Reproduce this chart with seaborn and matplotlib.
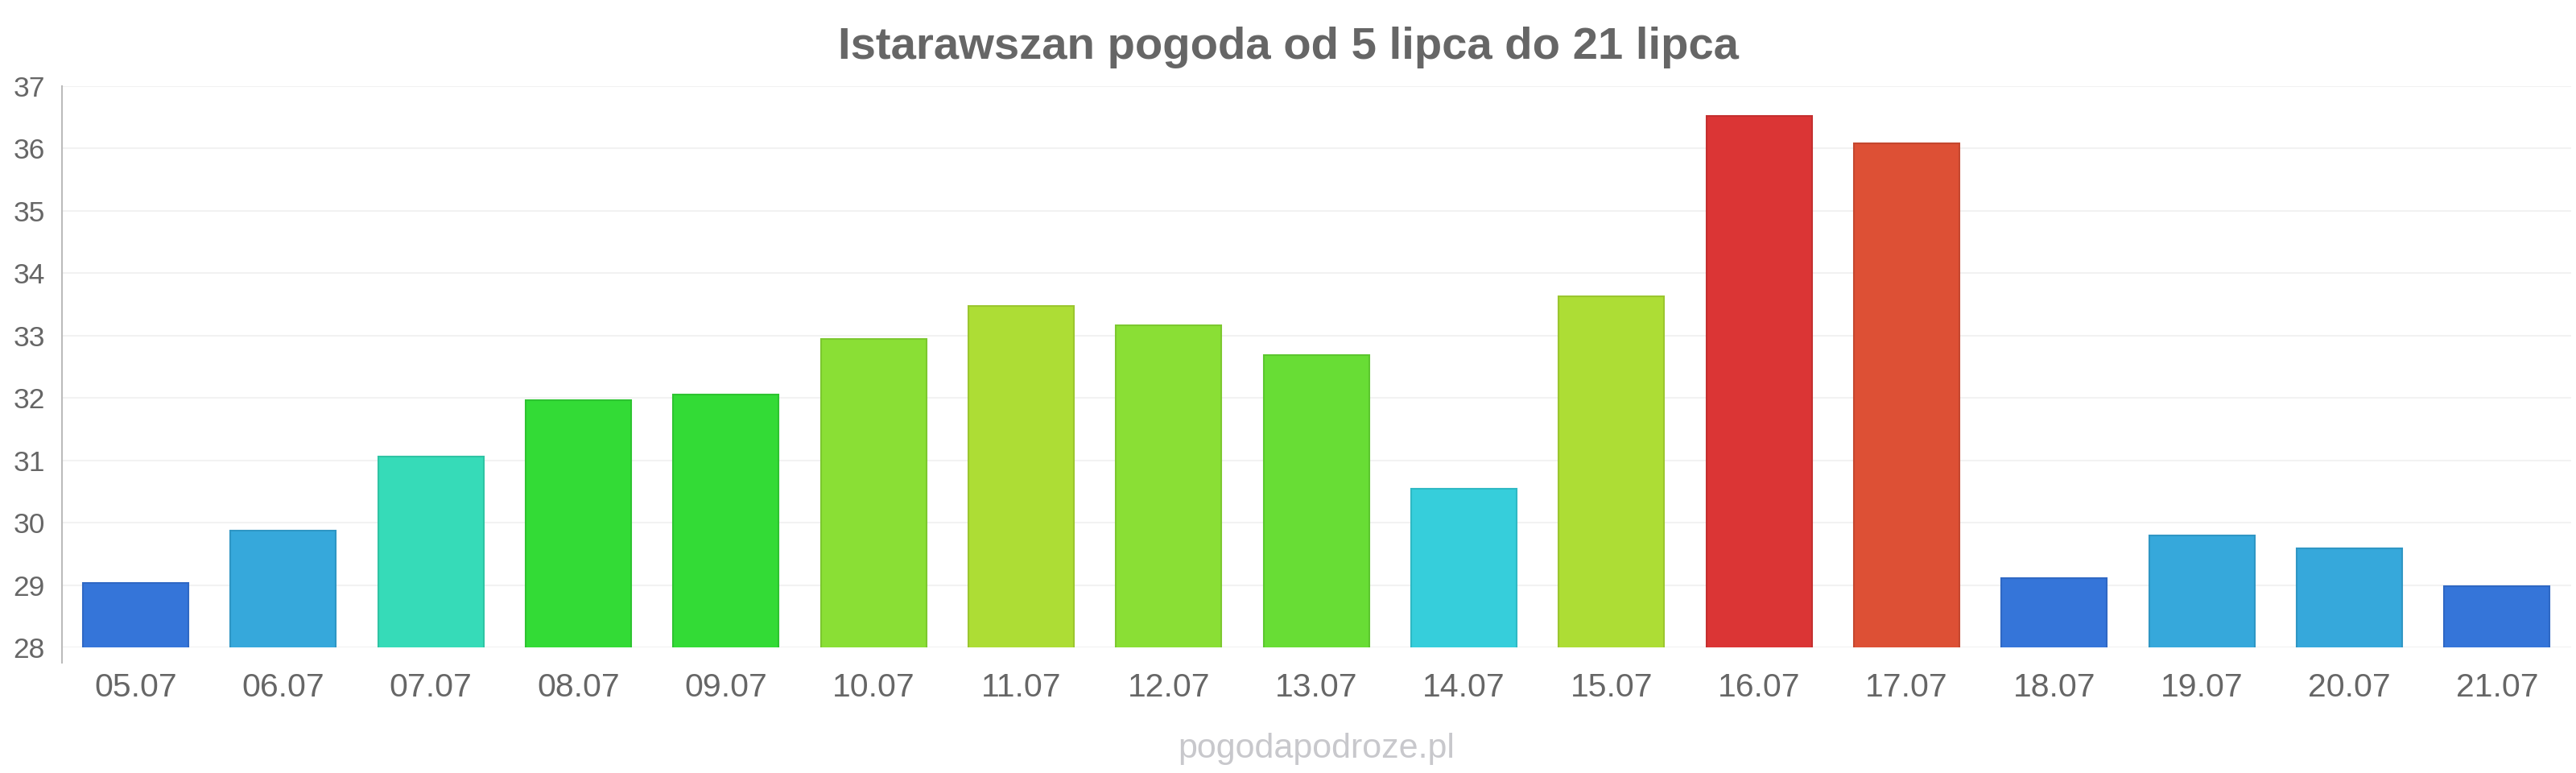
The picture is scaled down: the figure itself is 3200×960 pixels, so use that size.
import matplotlib
matplotlib.use("Agg")
import matplotlib.pyplot as plt
import seaborn as sns
import pandas as pd

# data
days = ["05.07", "06.07", "07.07", "08.07", "09.07", "10.07", "11.07", "12.07", "13.07",
        "14.07", "15.07", "16.07", "17.07", "18.07", "19.07", "20.07", "21.07"]
temps = [29.03, 29.87, 31.06, 31.96, 32.05, 32.94, 33.47, 33.17, 32.69,
         30.54, 33.63, 36.52, 36.08, 29.11, 29.79, 29.59, 28.98]
colors = ["#3575d9", "#36a8db", "#36dbb8", "#33db36", "#33db36", "#8adf35", "#addd35",
          "#8adf35", "#68dd35", "#36cedb", "#addd35", "#db3535", "#dd5035", "#3575d9",
          "#36a8db", "#36a8db", "#3575d9"]
edges = ["#2f68c4", "#2f96c4", "#2fc4a4", "#2dc430", "#2dc430", "#7cc82f", "#9bc62f",
         "#7cc82f", "#5cc62f", "#2fb9c4", "#9bc62f", "#c42f2f", "#c4472f", "#2f68c4",
         "#2f96c4", "#2f96c4", "#2f68c4"]
yticks = [28, 29, 30, 31, 32, 33, 34, 35, 36, 37]

title = "Istarawszan pogoda od 5 lipca do 21 lipca"
watermark = "pogodapodroze.pl"

df = pd.DataFrame({"day": days, "temp": temps})

sns.set_style("white")
plt.rcParams["font.family"] = ["Liberation Sans", "DejaVu Sans"]

fig = plt.figure(figsize=(32, 9.6), dpi=100)
ax = fig.add_axes([0.024, 0.1625, 0.974, 0.726])

sns.barplot(data=df, x="day", y="temp", hue="day", palette=colors, legend=False,
            width=0.715, saturation=1, ax=ax, zorder=3)
for patch, ec in zip(ax.patches, edges):
    patch.set_edgecolor(ec)
    patch.set_linewidth(1.5)

ax.set_ylim(28, 37)
ax.set_xlim(-0.5, len(days) - 0.5)
ax.set_yticks(yticks)
ax.yaxis.grid(True, color="#f2f2f2", linewidth=1.5, zorder=0)
ax.set_axisbelow(True)
ax.set_xlabel("")
ax.set_ylabel("")

for side in ["top", "right", "bottom"]:
    ax.spines[side].set_visible(False)
ax.spines["left"].set_color("#bbbbbb")
ax.spines["left"].set_linewidth(1.5)
ax.spines["left"].set_bounds(27.75, 37)

ax.tick_params(axis="y", length=13, width=1.5, color="#f2f2f2", pad=2,
               labelsize=25.5, labelcolor="#666666")
ax.tick_params(axis="x", length=0, pad=22, labelsize=29.5, labelcolor="#666666")

fig.text(0.5, 0.939, title, ha="center", va="center", fontsize=40.5,
         fontweight="bold", color="#666666")
fig.text(0.511, 0.031, watermark, ha="center", va="center", fontsize=31,
         color="#c8c8cc")

fig.savefig("out.png", dpi=100)
